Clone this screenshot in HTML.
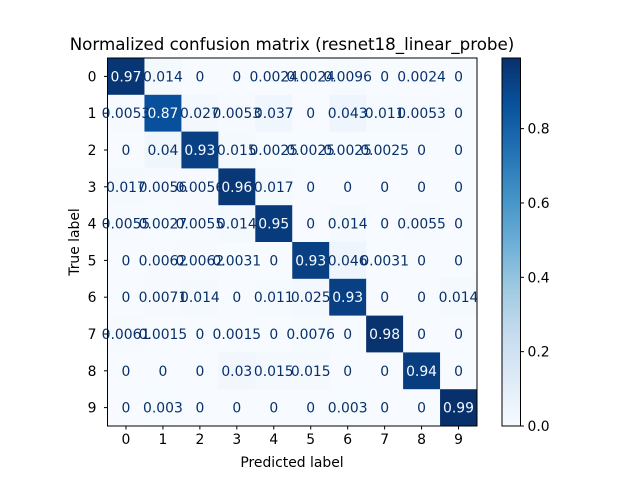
<!DOCTYPE html>
<html><head><meta charset="utf-8"><style>
body{margin:0;background:#fff}
svg text{font-family:"DejaVu Sans","Liberation Sans",sans-serif;fill:#000}
</style></head><body>
<svg id="chart" width="640" height="480" xmlns="http://www.w3.org/2000/svg">
<text x="292" y="50" font-size="16.7" text-anchor="middle">Normalized confusion matrix (resnet18_linear_probe)</text>
<text x="292" y="467" font-size="13.9" text-anchor="middle">Predicted label</text>
<text x="0" y="0" font-size="13.9" text-anchor="middle" transform="translate(79,242) rotate(-90)">True label</text>
<g id="axes"></g>
<g id="cells"></g>
<g id="labels"></g>
<g id="frame"></g>
<g id="cbar"></g>
</svg>
<script>
const classLabels = ["0","1","2","3","4","5","6","7","8","9"];
const row0 = [0.97,0.014,0,0,0.0024,0.0024,0.0096,0,0.0024,0];
const row1 = [0.0053,0.87,0.027,0.0053,0.037,0,0.043,0.011,0.0053,0];
const row2 = [0,0.04,0.93,0.015,0.0025,0.0025,0.0025,0.0025,0,0];
const row3 = [0.017,0.0056,0.0056,0.96,0.017,0,0,0,0,0];
const row4 = [0.0055,0.0027,0.0055,0.014,0.95,0,0.014,0,0.0055,0];
const row5 = [0,0.0062,0.0062,0.0031,0,0.93,0.046,0.0031,0,0];
const row6 = [0,0.0071,0.014,0,0.011,0.025,0.93,0,0,0.014];
const row7 = [0.0061,0.0015,0,0.0015,0,0.0076,0,0.98,0,0];
const row8 = [0,0,0,0.03,0.015,0.015,0,0,0.94,0];
const row9 = [0,0.003,0,0,0,0,0.003,0,0,0.99];
const matrix = [row0,row1,row2,row3,row4,row5,row6,row7,row8,row9];
const cbarTicks = [0,0.2,0.4,0.6,0.8];

const NS="http://www.w3.org/2000/svg";
const L=107.5,R=477,T=58,B=426;
const n=classLabels.length;
const cw=(R-L)/n, ch=(B-T)/n;
let vmin=Infinity,vmax=-Infinity;
matrix.forEach(r=>r.forEach(v=>{vmin=Math.min(vmin,v);vmax=Math.max(vmax,v);}));
const stops=["#f7fbff","#deebf7","#c6dbef","#9ecae1","#6baed6","#4292c6","#2171b5","#08519c","#08306b"];
function hex(h){return [1,3,5].map(i=>parseInt(h.substr(i,2),16));}
function cmap(t){t=Math.max(0,Math.min(1,t));const p=t*(stops.length-1);const i=Math.min(Math.floor(p),stops.length-2);const f=p-i;const a=hex(stops[i]),b=hex(stops[i+1]);return "rgb("+a.map((c,k)=>Math.round(c+(b[k]-c)*f)).join(",")+")";}
function xPos(j){return L+j*cw;}
function yPos(i){return T+i*ch;}
function mk(tag,attrs,parent){const e=document.createElementNS(NS,tag);for(const k in attrs)e.setAttribute(k,attrs[k]);parent.appendChild(e);return e;}
function fmt(v){if(v===0)return "0";return String(parseFloat(v.toPrecision(2)));}
const cells=document.getElementById('cells');
const labels=document.getElementById('labels');
matrix.forEach((r,i)=>r.forEach((v,j)=>{
  const rc=mk('rect',{x:xPos(j),y:yPos(i),width:cw+0.5,height:ch+0.5,fill:cmap((v-vmin)/(vmax-vmin))},cells);
  
  
  const t=mk('text',{x:xPos(j)+cw/2,y:yPos(i)+ch/2+5,'font-size':13.9,'text-anchor':'middle'},labels);
  t.style.fill=v>(vmax+vmin)/2?"#f7fbff":"#08306b";
  t.textContent=fmt(v);
  
  
}));
const axes=document.getElementById('axes');
const fr=document.getElementById('frame');
const frame=mk('rect',{x:L,y:T,width:R-L,height:B-T,fill:'none',stroke:'#000','stroke-width':1},fr);


classLabels.forEach((lab,k)=>{
  const cx=xPos(k)+cw/2, cy=yPos(k)+ch/2;
  mk('line',{x1:cx,x2:cx,y1:B,y2:B+3.5,stroke:'#000'},fr);
  const tx=mk('text',{x:cx,y:B+18,'font-size':13.9,'text-anchor':'middle'},axes);
  tx.textContent=lab;
  
  
  mk('line',{x1:L-3.5,x2:L,y1:cy,y2:cy,stroke:'#000'},fr);
  const ty=mk('text',{x:L-11,y:cy+5,'font-size':13.9,'text-anchor':'end'},axes);
  ty.textContent=lab;
  
  
});
const cb=document.getElementById('cbar');
const CL=502,CR=520.5;
const grad=mk('linearGradient',{id:'g',x1:0,y1:1,x2:0,y2:0},mk('defs',{},cb));
stops.forEach((s,k)=>mk('stop',{offset:k/(stops.length-1),'stop-color':s},grad));
const cbr=mk('rect',{x:CL,y:T,width:CR-CL,height:B-T,fill:'url(#g)',stroke:'#000','stroke-width':1},cb);


function cbY(v){return B-(v-vmin)/(vmax-vmin)*(B-T);}
cbarTicks.forEach(v=>{
  const y=cbY(v);
  mk('line',{x1:CR,x2:CR+3.5,y1:y,y2:y,stroke:'#000'},cb);
  const t=mk('text',{x:CR+7,y:y+5,'font-size':13.9},cb);
  t.textContent=v.toFixed(1);
  
  
});
</script>
</body></html>
